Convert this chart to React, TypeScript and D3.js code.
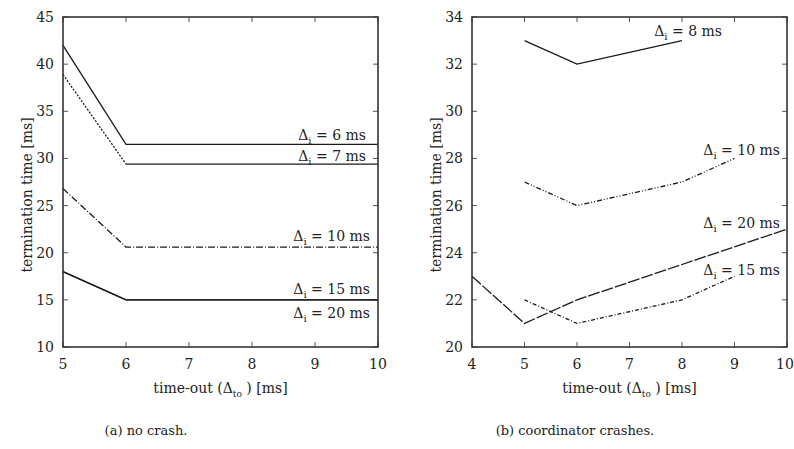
import * as d3 from "d3";
import { useEffect, useRef } from "react";

// (a) no crash – x: time-out, y: termination time
const xA = [5, 6, 7, 8, 9, 10];
const a6 = [42, 31.5, 31.5, 31.5, 31.5, 31.5];
const a7 = [38.9, 29.4, 29.4, 29.4, 29.4, 29.4];
const a10 = [26.8, 20.6, 20.6, 20.6, 20.6, 20.6];
const a15 = [18, 15, 15, 15, 15, 15];
const a20 = [18, 15, 15, 15, 15, 15];

// (b) coordinator crashes
const b8x = [5, 6, 8];
const b8 = [33, 32, 33];
const b10x = [5, 6, 8, 9];
const b10 = [27, 26, 27, 28];
const b20x = [4, 5, 6, 7, 8, 9, 10];
const b20 = [23, 21, 22, 22.75, 23.5, 24.25, 25];
const b15x = [5, 6, 8, 9];
const b15 = [22, 21, 22, 23];

const ticksAx = [5, 6, 7, 8, 9, 10];
const ticksAy = [10, 15, 20, 25, 30, 35, 40, 45];
const ticksBx = [4, 5, 6, 7, 8, 9, 10];
const ticksBy = [20, 22, 24, 26, 28, 30, 32, 34];

const FONT = "'DejaVu Serif', serif";

const App = () => {
  const ref = useRef<SVGSVGElement>(null);

  useEffect(() => {
    const svg = d3.select(ref.current);
    svg.selectAll("*").remove();
    svg.append("rect").attr("width", 794).attr("height", 449).attr("fill", "#fff");

    const txt = (g: any, x: number, y: number, size: number, anchor: string) =>
      g.append("text").attr("x", x).attr("y", y).attr("text-anchor", anchor)
        .style("font-family", FONT).style("font-size", size + "px").attr("fill", "#222");

    const panel = (opts: any) => {
      const { x0, x1, y0, y1, xd, yd, xt, yt, series, labels, caption, capX } = opts;
      const sx = d3.scaleLinear().domain(xd).range([x0, x1]);
      const sy = d3.scaleLinear().domain(yd).range([y0, y1]);
      const g = svg.append("g");

      // ticks inside, mirrored
      xt.forEach((t: number) => {
        g.append("line").attr("x1", sx(t)).attr("x2", sx(t)).attr("y1", y0).attr("y2", y0 - 5)
          .attr("stroke", "#555").attr("stroke-width", 1);
        g.append("line").attr("x1", sx(t)).attr("x2", sx(t)).attr("y1", y1).attr("y2", y1 + 5)
          .attr("stroke", "#555").attr("stroke-width", 1);
        // keep the last label inside the page
        const xx = Math.min(sx(t), 785);
        txt(g, xx, y0 + 22, 14, "middle").text(t);
      });
      yt.forEach((t: number) => {
        g.append("line").attr("x1", x0).attr("x2", x0 + 5).attr("y1", sy(t)).attr("y2", sy(t))
          .attr("stroke", "#555").attr("stroke-width", 1);
        g.append("line").attr("x1", x1).attr("x2", x1 - 5).attr("y1", sy(t)).attr("y2", sy(t))
          .attr("stroke", "#555").attr("stroke-width", 1);
        txt(g, x0 - 9, sy(t) + 5, 14, "end").text(t);
      });

      // series
      series.forEach((s: any) => {
        const pts = s.xs.map((x: number, i: number) => [x, s.ys[i]]);
        const line = d3.line<any>().x(d => sx(d[0])).y(d => sy(d[1]));
        const parts = s.split ? [pts.slice(0, s.split + 1), pts.slice(s.split)] : [pts];
        parts.forEach((p: any, i: number) => {
          const dash = s.split ? (i === 0 ? s.dash : null) : s.dash;
          g.append("path").attr("d", line(p)).attr("fill", "none")
            .attr("stroke", "#1a1a1a").attr("stroke-width", 1.3)
            .attr("stroke-dasharray", dash);
        });
      });

      // frame
      g.append("rect").attr("x", x0).attr("y", y1).attr("width", x1 - x0).attr("height", y0 - y1)
        .attr("fill", "none").attr("stroke", "#333").attr("stroke-width", 1.6);

      // curve labels
      labels.forEach((l: any) => {
        const t = txt(g, l.x, sy(l.y), 14, "end");
        t.append("tspan").text("\u0394");
        t.append("tspan").attr("dy", 4).style("font-size", "10px").text("i");
        t.append("tspan").attr("dy", -4).text(` = ${l.v} ms`);
      });

      // axis labels
      const xl = txt(g, (x0 + x1) / 2, y0 + 46, 14, "middle");
      xl.append("tspan").text("time-out (\u0394");
      xl.append("tspan").attr("dy", 4).style("font-size", "9px").text("to");
      xl.append("tspan").attr("dy", -4).text(" ) [ms]");

      txt(g, 0, 0, 14, "middle")
        .attr("transform", `translate(${x0 - 31},${(y0 + y1) / 2 + 13}) rotate(-90)`)
        .text("termination time [ms]");

      txt(g, capX, 435, 13, "middle").text(caption);
    };

    panel({
      x0: 63, x1: 378, y0: 347, y1: 17, xd: [5, 10], yd: [10, 45], xt: ticksAx, yt: ticksAy,
      series: [
        { xs: xA, ys: a6, dash: null },
        { xs: xA, ys: a7, dash: "2,1.5", split: 1 },
        { xs: xA, ys: a10, dash: "7,2,1,2" },
        { xs: xA, ys: a15, dash: null },
        { xs: xA, ys: a20, dash: null },
      ],
      labels: [
        { v: 6, y: 32.0, x: 366 },
        { v: 7, y: 29.7, x: 366 },
        { v: 10, y: 21.2, x: 370 },
        { v: 15, y: 15.6, x: 370 },
        { v: 20, y: 13.1, x: 370 },
      ],
      caption: "(a) no crash.", capX: 146,
    });

    panel({
      x0: 472, x1: 787, y0: 347, y1: 17, xd: [4, 10], yd: [20, 34], xt: ticksBx, yt: ticksBy,
      series: [
        { xs: b8x, ys: b8, dash: null },
        { xs: b10x, ys: b10, dash: "5,2,1,2,1,2" },
        { xs: b20x, ys: b20, dash: "12,2" },
        { xs: b15x, ys: b15, dash: "4,2,1,2" },
      ],
      labels: [
        { v: 8, y: 33.2, x: 722 },
        { v: 10, y: 28.15, x: 780 },
        { v: 20, y: 25.05, x: 780 },
        { v: 15, y: 23.05, x: 780 },
      ],
      caption: "(b) coordinator crashes.", capX: 575,
    });
  }, []);

  return (
    <svg ref={ref} width={794} height={449} style={{ position: "absolute", left: 0, top: 0 }}></svg>
  );
};

export default App;
